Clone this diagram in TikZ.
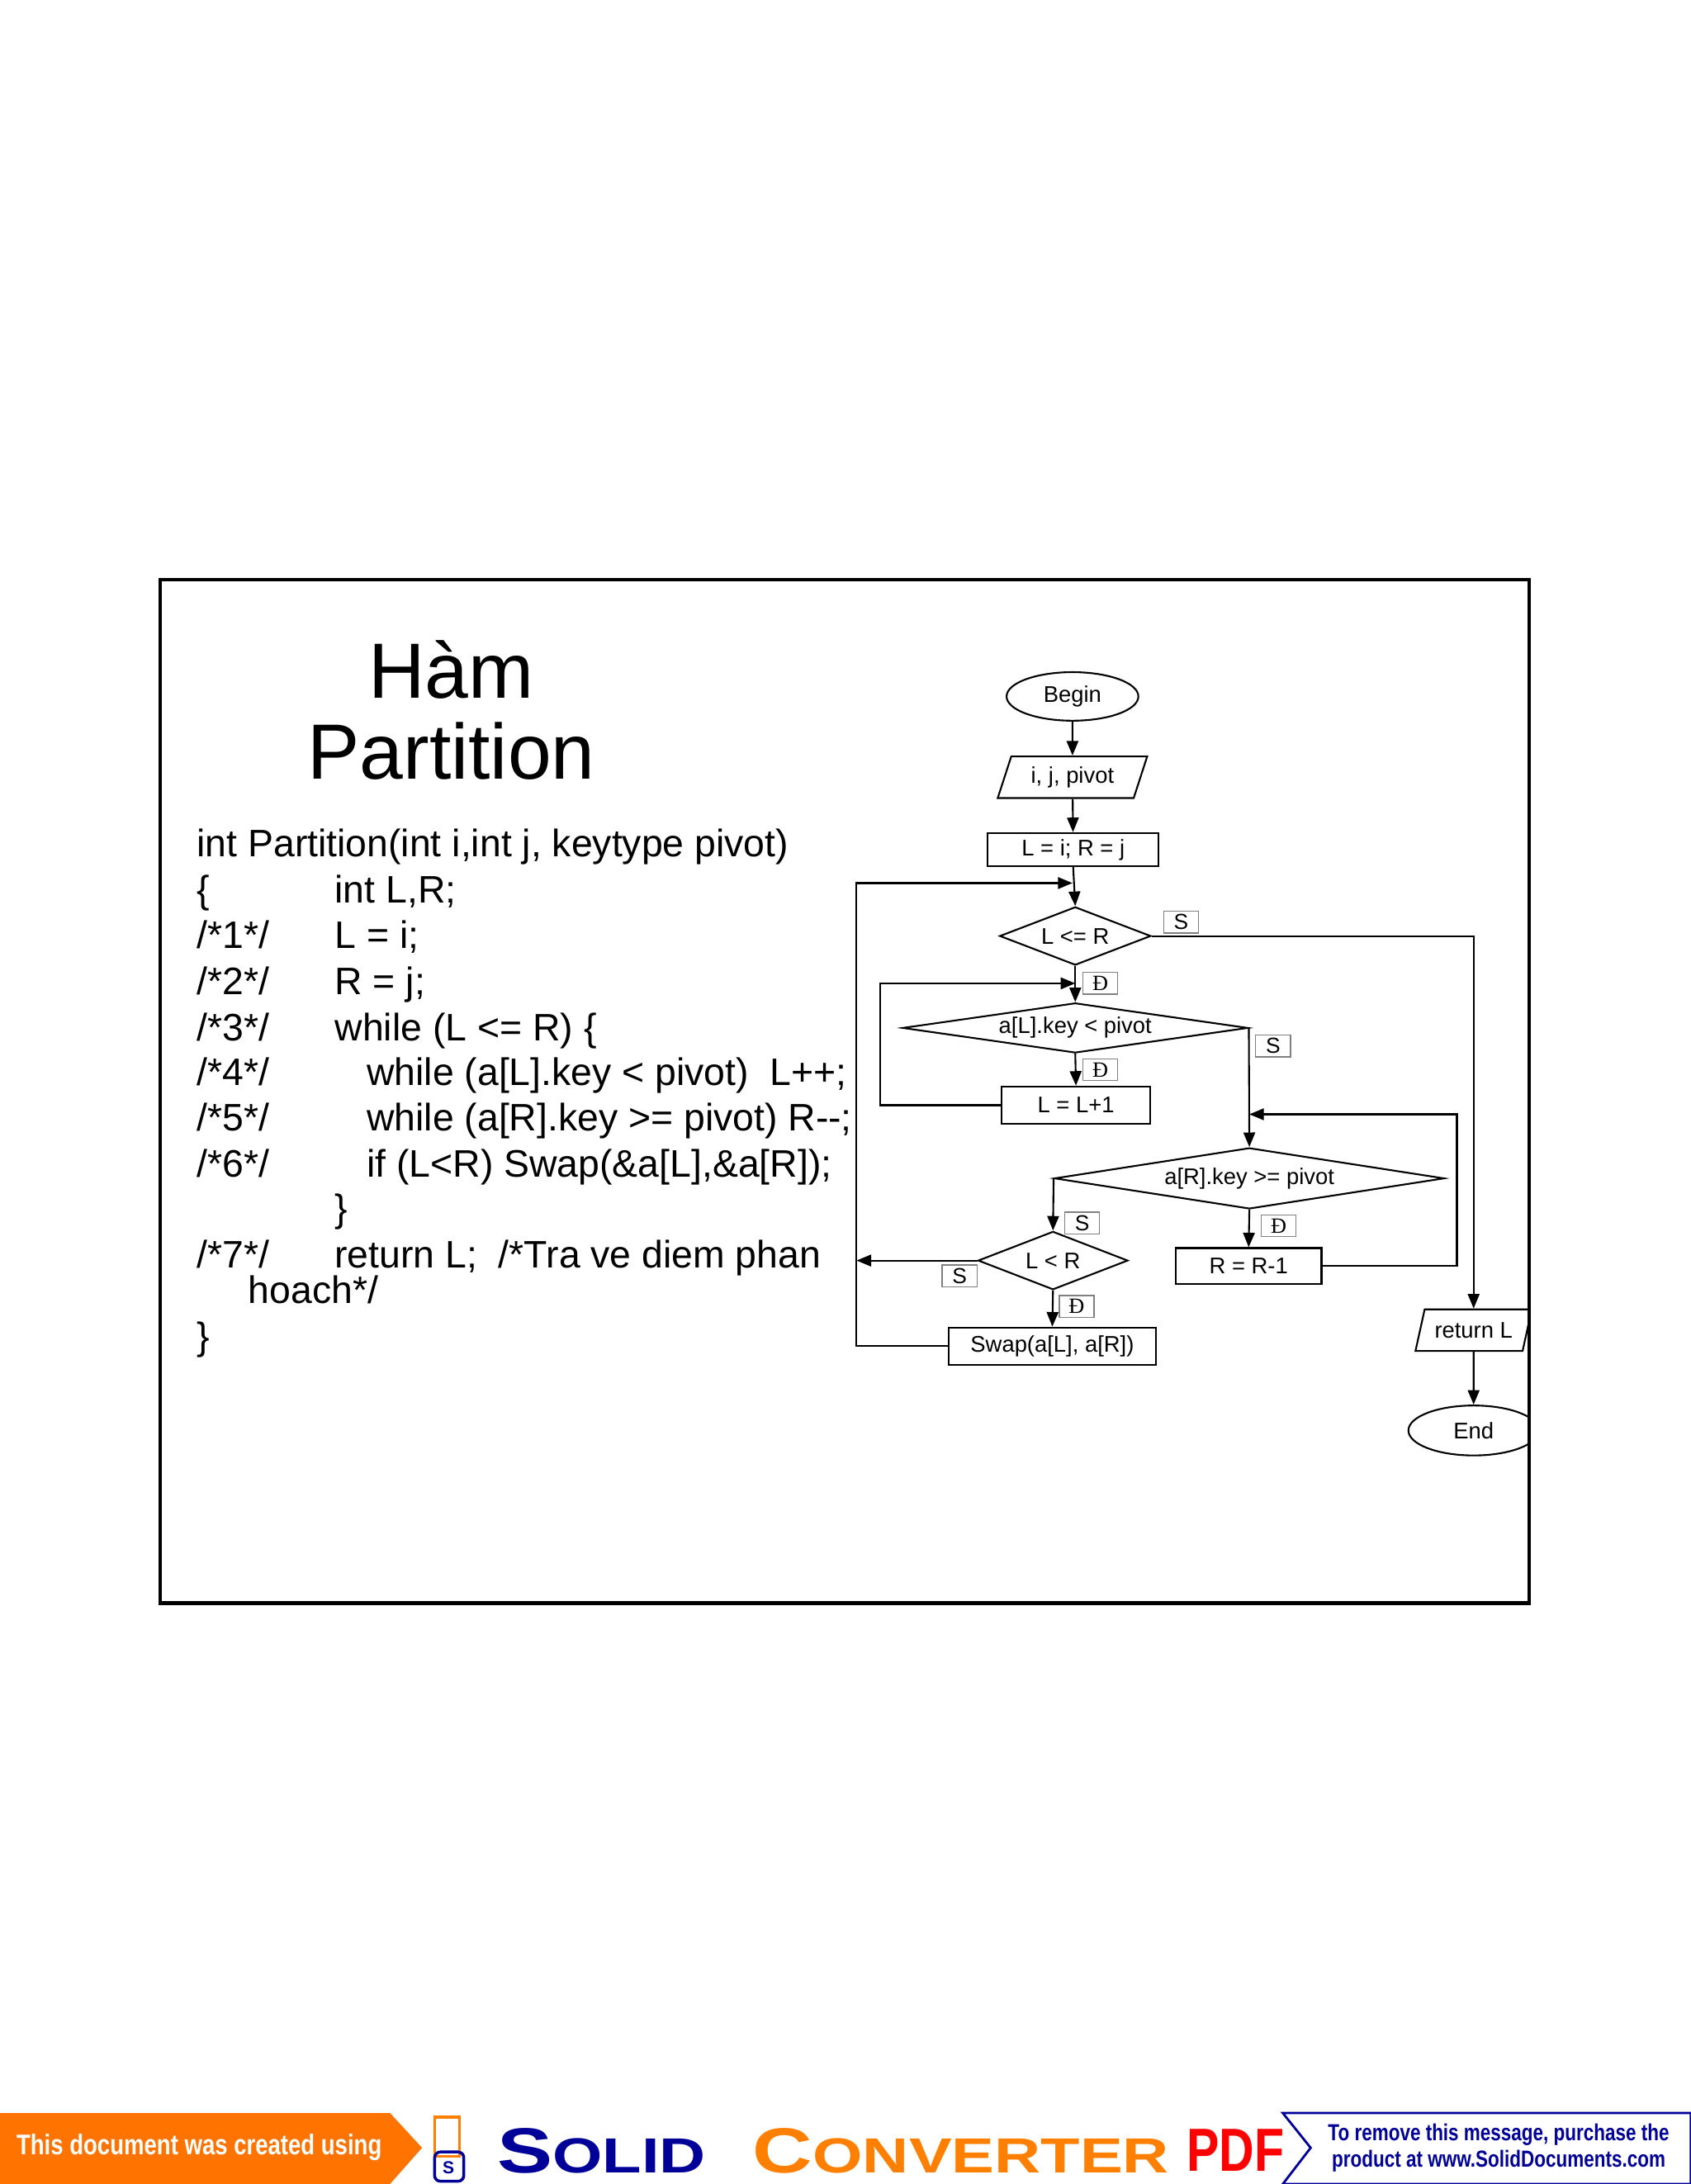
\documentclass[tikz,border=0pt]{standalone}
\usepackage{fontspec}
\setmainfont{Liberation Sans}
\newfontfamily\serifd{Liberation Serif}
\usetikzlibrary{shapes.geometric,arrows.meta}
\begin{document}
\begin{tikzpicture}[x=0.01687cm,y=-0.01687cm,
  ln/.style={line width=0.6pt},
  arr/.style={ln,-{Triangle[length=5pt,width=4pt]}},
  code/.style={anchor=base west,inner sep=0,font=\fontsize{13.2}{15}\selectfont},
  ft/.style={font=\fontsize{7.8}{9}\selectfont},
  lab/.style={draw=gray,line width=0.4pt,minimum width=12pt,minimum height=7.5pt,inner sep=0,font=\fontsize{7.5}{8}\selectfont}]
\useasboundingbox (0,0) rectangle (1214,1568);
\draw[line width=1.2pt] (115,416) rectangle (1098,1151);
\node[font=\fontsize{27}{30}\selectfont,align=center] (t) at (324,510) {Hàm\\[-2pt]Partition};
% code
\node[code] (c0) at (141,615) {int Partition(int i,int j, keytype pivot)};
\node[code] at (141,648) {\{}; \node[code] at (240,648) {int L,R;};
\node[code] at (141,681) {/*1*/}; \node[code] at (240,681) {L = i;};
\node[code] at (141,714) {/*2*/}; \node[code] at (240,714) {R = j;};
\node[code] at (141,747) {/*3*/}; \node[code] at (240,747) {while (L <= R) \{};
\node[code] at (141,779) {/*4*/}; \node[code] at (263,779) {while (a[L].key < pivot)\ \ L++;};
\node[code] at (141,812) {/*5*/}; \node[code] at (263,812) {while (a[R].key >= pivot) R-{}-;};
\node[code] at (141,845) {/*6*/}; \node[code] at (263,845) {if (L<R) Swap(\&a[L],\&a[R]);};
\node[code] at (240,877) {\}};
\node[code] at (141,910) {/*7*/}; \node[code] at (240,910) {return L;\ \ /*Tra ve diem phan};
\node[code] at (178,936) {hoach*/};
\node[code] at (141,969) {\}};
% flowchart
\def\U{0.4782pt}
\begin{scope}
\clip (115,416) rectangle (1098,1151);
\tikzset{every node/.append style={ln}}
\node[draw,ellipse,ft,minimum width=95*\U,minimum height=35*\U,inner sep=0] (begin) at (770,500) {Begin};
\node[draw,trapezium,trapezium left angle=70,trapezium right angle=110,trapezium stretches=true,ft,minimum width=108*\U,minimum height=30*\U,inner sep=1pt] (in) at (770,558) {i, j, pivot};
\node[draw,ft,minimum width=123*\U,minimum height=24*\U,inner sep=0] (init) at (770.5,610) {L = i; R = j};
\node[draw,diamond,ft,minimum width=109*\U,minimum height=42*\U,inner sep=0,shape aspect=2.6] (d1) at (772,672) {L <= R};
\node[draw,diamond,ft,minimum width=249*\U,minimum height=36*\U,inner sep=0,shape aspect=6.9] (d2) at (772,738) {a[L].key < pivot};
\node[draw,ft,minimum width=107*\U,minimum height=27*\U,inner sep=0] (inc) at (772.5,793.5) {L = L+1};
\node[draw,diamond,ft,minimum width=281*\U,minimum height=44*\U,inner sep=0,shape aspect=6.4] (d3) at (897,846) {a[R].key >= pivot};
\node[draw,ft,minimum width=105*\U,minimum height=26*\U,inner sep=0] (dec) at (896.5,909) {R = R-1};
\node[draw,diamond,ft,minimum width=108*\U,minimum height=42*\U,inner sep=0,shape aspect=2.6] (d4) at (756,905) {L < R};
\node[draw,ft,minimum width=149*\U,minimum height=27*\U,inner sep=0] (swap) at (755.5,966.5) {Swap(a[L], a[R])};
\node[draw,trapezium,trapezium left angle=70,trapezium right angle=110,trapezium stretches=true,ft,minimum width=84*\U,minimum height=30*\U,inner sep=1pt] (ret) at (1058,955) {return L};
\node[draw,ellipse,ft,minimum width=94*\U,minimum height=36*\U,inner sep=0] (end) at (1058,1027) {End};
\coordinate (j1) at (770,634);
\coordinate (j2) at (772,706);
\coordinate (j3) at (897,800);
\draw[arr] (begin) -- (in);
\draw[arr] (in) -- (init);
\draw[arr] (init.south) -- (d1.north);
\draw[arr] (d1.south) -- (d2.north);
\draw[arr] (d2.south) -- (inc.north);
\draw[arr] (inc.west) -- (632,793.5) |- (j2);
\draw[arr] (d2.east) -- (d3.north);
\draw[arr] (d3.south) -- (dec.north);
\draw[arr] (dec.east) -- (1046,909) |- (j3);
\draw[arr] (d3.west) -- (d4.north);
\draw[arr] (d4.south) -- (swap.north);
\draw[arr] (d4.west) -- (615,905);
\draw[arr] (swap.west) -- (615,966.5) |- (j1);
\draw[arr] (d1.east) -| (ret.north);
\draw[arr] (ret.south) -- (end.north);
\end{scope}
\node[lab] (s1) at (848,662) {S};
\node[lab,font=\serifd\fontsize{7.5}{8}\selectfont] (e1) at (790,706) {Đ};
\node[lab,font=\serifd\fontsize{7.5}{8}\selectfont] (e2) at (790,768) {Đ};
\node[lab] (s2) at (914,751) {S};
\node[lab] (s3) at (777,878) {S};
\node[lab,font=\serifd\fontsize{7.5}{8}\selectfont] (e3) at (918,880) {Đ};
\node[lab] (s4) at (689,916) {S};
\node[lab,font=\serifd\fontsize{7.5}{8}\selectfont] (e4) at (773,938) {Đ};
% page number and banner
\node[anchor=base,font=\fontsize{11}{12}\selectfont] (pg) at (1147,1546) {61};
\fill[orange!90!red] (0,1517) -- (280,1517) -- (303,1542) -- (280,1568) -- (0,1568) -- cycle;
\node[white,font=\bfseries\fontsize{9.8}{10}\selectfont,xscale=0.8] (b1) at (143,1542) {This document was created using};
\draw[orange,line width=1pt] (312,1520) rectangle (330,1548);
\draw[blue!60!black,line width=1pt,rounded corners=2pt] (312,1545) rectangle (333,1566);
\node[font=\fontsize{6}{6}\selectfont\bfseries,blue!60!black] (slogo) at (322,1556) {S};
\node[font=\bfseries\fontsize{22}{22}\selectfont,blue!60!black,xscale=1.3] (b2) at (432,1544) {S\fontsize{17}{17}\selectfont OLID};
\node[font=\bfseries\fontsize{22}{22}\selectfont,orange,xscale=1.3] (b3) at (690,1544) {C\fontsize{17}{17}\selectfont ONVERTER};
\node[font=\bfseries\fontsize{21}{21}\selectfont,red,xscale=0.8] (b4) at (887,1544) {PDF};
\draw[blue!60!black,line width=0.8pt,fill=white] (921,1517) -- (1214,1517) -- (1214,1568) -- (921,1568) -- (941,1542) -- cycle;
\node[align=center,blue!60!black,font=\bfseries\fontsize{8}{9}\selectfont,xscale=0.8] (b5) at (1076,1542) {To remove this message, purchase the\\product at www.SolidDocuments.com};
\end{tikzpicture}
\end{document}
